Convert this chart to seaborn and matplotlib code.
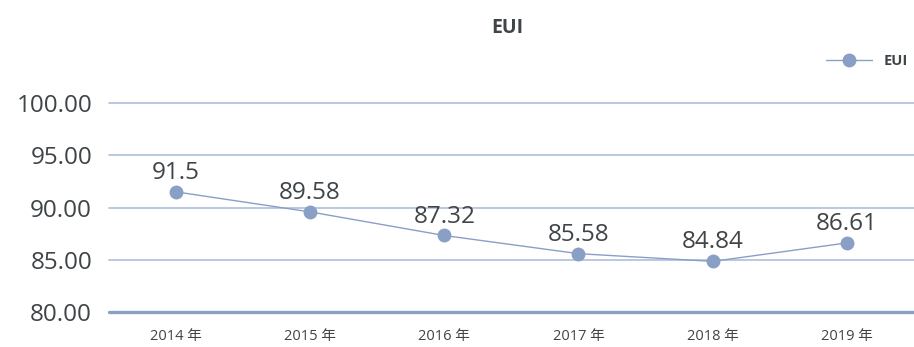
import matplotlib
matplotlib.use("Agg")
import matplotlib.pyplot as plt
import seaborn as sns
import pandas as pd

years = ["2014 年", "2015 年", "2016 年", "2017 年", "2018 年", "2019 年"]
eui = [91.5, 89.58, 87.32, 85.58, 84.84, 86.61]
y_ticks = [80, 85, 90, 95, 100]

sns.set_theme(style="white")
plt.rcParams["font.family"] = ["Open Sans", "Noto Sans CJK SC", "DejaVu Sans"]

line_color = "#8a9fc6"
grid_color = "#afc0dc"
text_color = "#3f4447"

df = pd.DataFrame({"year": years, "EUI": eui})

fig = plt.figure(figsize=(9.14, 3.47), dpi=100)
ax = fig.add_axes([0.119, 0.101, 0.881, 0.602])

sns.lineplot(data=df, x="year", y="EUI", ax=ax, color=line_color, linewidth=1,
             marker="o", markersize=10, markeredgewidth=0, label="EUI", sort=False)

ax.set_xlim(-0.5, len(years) - 0.5)
ax.set_ylim(80, 100)
ax.set_yticks(y_ticks)
ax.set_yticklabels([f"{v:.2f}" for v in y_ticks], fontsize=17.5, color=text_color)
ax.set_xticks(range(len(years)))
ax.set_xticklabels(years, fontsize=10.5, color=text_color)
ax.tick_params(axis="both", length=0)
ax.tick_params(axis="x", pad=12)
ax.tick_params(axis="y", pad=12)
ax.set_xlabel("")
ax.set_ylabel("")

for v in y_ticks[1:]:
    ax.axhline(v, color=grid_color, linewidth=1.2, zorder=0, clip_on=False)
ax.axhline(80, color=line_color, linewidth=2.4, zorder=1, clip_on=False)

for s in ax.spines.values():
    s.set_visible(False)

for i, v in enumerate(eui):
    ax.annotate(f"{v:g}", (i, v), xytext=(0, 5), textcoords="offset points",
                ha="center", va="bottom", fontsize=17.5, color=text_color)

fig.text(0.555, 0.918, "EUI", ha="center", va="center", fontsize=14,
         fontweight="bold", color=text_color)

leg = ax.legend(loc="lower right", bbox_to_anchor=(1.0, 1.14), frameon=False,
                fontsize=10.5, handlelength=3.2, handletextpad=0.8, borderaxespad=0)
for t in leg.get_texts():
    t.set_fontweight("bold")
    t.set_color(text_color)

fig.savefig("out.png", dpi=100)
